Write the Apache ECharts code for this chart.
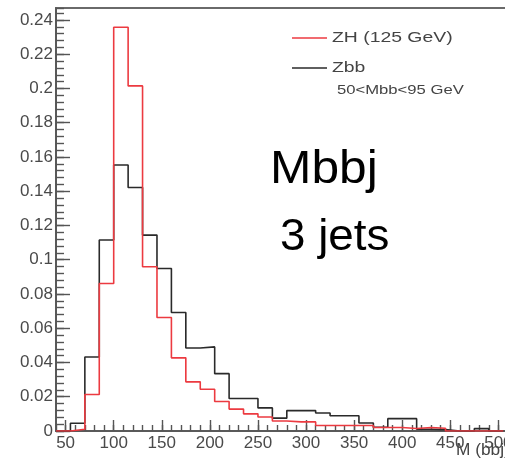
<!DOCTYPE html>
<html>
<head>
<meta charset="utf-8">
<script src="https://cdn.jsdelivr.net/npm/echarts@6/dist/echarts.min.js"></script>
<style>html,body{margin:0;padding:0;background:#fff}#c{width:505px;height:470px}</style>
</head>
<body>
<div id="c"></div>
<script>
// bin edges (GeV), 31 bins of the M(bbj) histogram
var binEdges = [40,55,70,85,100,115,130,145,160,175,190,205,220,235,250,265,280,295,310,325,340,355,370,385,400,415,430,445,460,475,490,505];
// ZH (125 GeV) normalised content per bin
var zhValues = [0,0.0010,0.0213,0.0861,0.2358,0.2015,0.0959,0.0663,0.0427,0.0287,0.0244,0.0172,0.0128,0.0100,0.0082,0.0058,0.0053,0.0053,0.0032,0.0032,0.0032,0.0032,0.0020,0.0020,0.0015,0.0020,0.0016,0,0,0,0];
// Zbb normalised content per bin
var zbbValues = [0,0.0045,0.0432,0.1115,0.1553,0.1422,0.1144,0.0949,0.0692,0.0485,0.0491,0.0335,0.0190,0.0190,0.0135,0.0075,0.0119,0.0119,0.0105,0.0089,0.0089,0.0047,0.0022,0.0072,0.0072,0.0010,0.0008,0,0,0.0014,0];
var seriesNames = ['ZH (125 GeV)', 'Zbb'];
var cutLabel = '50<Mbb<95 GeV';
var titleLines = ['Mbbj', '3 jets'];
var xTitle = 'M (bbj)';

function histData(vals) {
  var d = [];
  for (var i = 0; i < vals.length; i++) d.push([binEdges[i], vals[i]]);
  d.push([binEdges[vals.length], 0]);
  return d;
}

var chart = echarts.init(document.getElementById('c'), null, {renderer: 'canvas'});
var labelFont = {fontFamily: 'Liberation Sans, Arial, sans-serif', fontSize: 17, color: '#4a4a4a'};
chart.setOption({
  animation: false,
  backgroundColor: '#fff',
  grid: {left: 56, top: 8, right: -3, bottom: 39, show: true, borderColor: '#6a6a6a', borderWidth: 2,
         containLabel: false, outerBoundsMode: 'none'},
  xAxis: [{
    type: 'value', min: 40, max: 510, splitNumber: 9, position: 'bottom',
    axisLine: {lineStyle: {color: '#555', width: 1.5}},
    axisTick: {inside: true, length: 11, lineStyle: {color: '#555', width: 1.4}},
    axisLabel: Object.assign({showMinLabel: false, showMaxLabel: false, margin: 4}, labelFont),
    splitLine: {show: false}
  }, {
    type: 'value', min: 40, max: 510, interval: 10, position: 'bottom',
    axisLine: {show: false},
    axisTick: {inside: true, length: 6, lineStyle: {color: '#555', width: 1.4}},
    axisLabel: {show: false},
    splitLine: {show: false}
  }],
  yAxis: [{
    type: 'value', min: 0, max: 0.247, interval: 0.02, position: 'left',
    axisLine: {show: true, lineStyle: {color: '#555', width: 1.5}},
    axisTick: {show: true, inside: true, length: 14, lineStyle: {color: '#555', width: 1.4}},
    axisLabel: Object.assign({showMaxLabel: false, margin: 3, formatter: function (v) {
      if (v > 0.245) return '';
      return String(parseFloat(v.toFixed(2)));
    }}, labelFont),
    splitLine: {show: false}
  }, {
    type: 'value', min: 0, max: 0.247, interval: 0.004, position: 'left',
    axisLine: {show: false},
    axisTick: {show: true, inside: true, length: 8, lineStyle: {color: '#555', width: 1.4}},
    axisLabel: {show: false},
    splitLine: {show: false}
  }],
  series: [{
    name: seriesNames[0], type: 'line', step: 'end', symbol: 'none', xAxisIndex: 0, yAxisIndex: 0,
    lineStyle: {color: '#ec3a40', width: 1.6}, data: histData(zhValues), z: 3
  }, {
    name: seriesNames[1], type: 'line', step: 'end', symbol: 'none', xAxisIndex: 0, yAxisIndex: 0,
    lineStyle: {color: '#2a2a2a', width: 1.6}, data: histData(zbbValues), z: 2
  }],
  graphic: [
    {type: 'line', shape: {x1: 292, y1: 38, x2: 327, y2: 38}, style: {stroke: '#ec3a40', lineWidth: 1.5}},
    {type: 'text', x: 332, y: 37.5, scaleX: 1.25, style: {text: seriesNames[0], fontFamily: 'Liberation Sans, Arial', fontSize: 15.5, fill: '#444', verticalAlign: 'middle'}},
    {type: 'line', shape: {x1: 292, y1: 68, x2: 327, y2: 68}, style: {stroke: '#2a2a2a', lineWidth: 1.5}},
    {type: 'text', x: 332, y: 68, scaleX: 1.25, style: {text: seriesNames[1], fontFamily: 'Liberation Sans, Arial', fontSize: 15.5, fill: '#444', verticalAlign: 'middle'}},
    {type: 'text', x: 337, y: 90, scaleX: 1.28, style: {text: cutLabel, fontFamily: 'Liberation Sans, Arial', fontSize: 13, fill: '#444', verticalAlign: 'middle'}},
    {type: 'text', x: 270, y: 170, scaleX: 1.08, style: {text: titleLines[0], fontFamily: 'Liberation Sans, Arial', fontSize: 46, fill: '#000', verticalAlign: 'middle'}},
    {type: 'text', x: 280, y: 237.5, scaleX: 1.04, style: {text: titleLines[1], fontFamily: 'Liberation Sans, Arial', fontSize: 44, fill: '#000', verticalAlign: 'middle'}},
    {type: 'text', x: 456, y: 451, scaleX: 1.08, style: {text: xTitle, fontFamily: 'Liberation Sans, Arial', fontSize: 16, fill: '#444', verticalAlign: 'middle'}}
  ]
});
</script>
</body>
</html>
